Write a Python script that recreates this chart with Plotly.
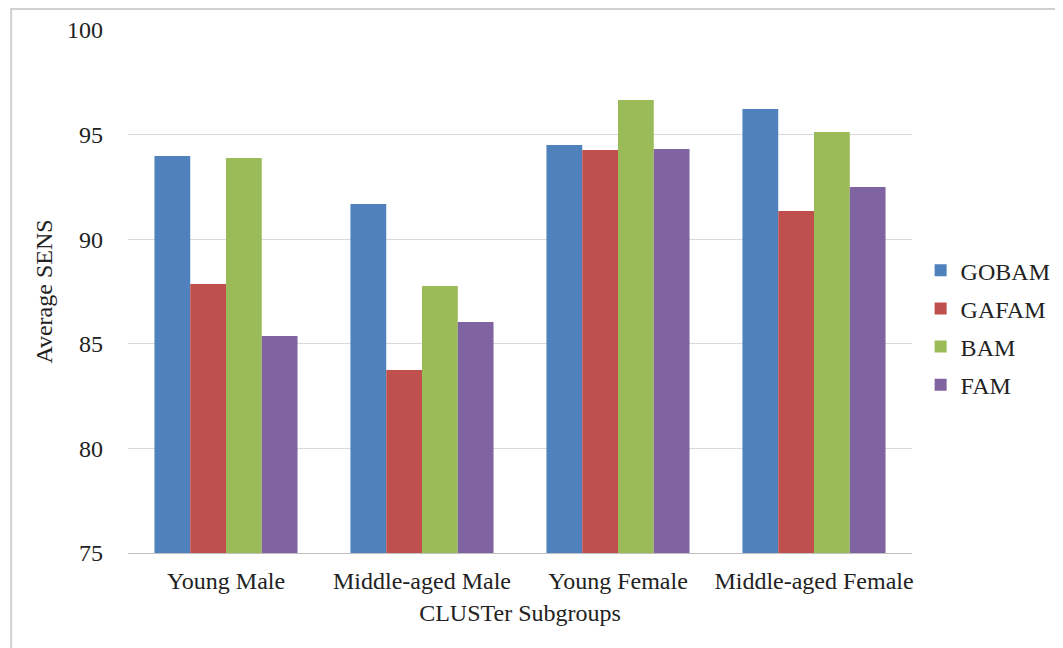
import plotly.graph_objects as go

categories = ["Young Male", "Middle-aged Male", "Young Female", "Middle-aged Female"]
gobam = [93.98, 91.68, 94.50, 96.22]
gafam = [87.86, 83.75, 94.26, 91.35]
bam = [93.88, 87.76, 96.65, 95.12]
fam = [85.37, 86.04, 94.31, 92.50]

series = [("GOBAM", gobam, "#4F81BD"), ("GAFAM", gafam, "#C0504D"),
          ("BAM", bam, "#9BBB59"), ("FAM", fam, "#8064A2")]

font = "Liberation Serif"
fig = go.Figure()
for name, vals, color in series:
    fig.add_trace(go.Bar(x=categories, y=vals, name=name, marker_color=color,
                         marker_line_width=0, legendgroup=name))

fig.update_layout(
    width=1063, height=648,
    margin=dict(l=120, r=159, t=22, b=103, autoexpand=False),
    paper_bgcolor="white", plot_bgcolor="white",
    font=dict(family=font, size=24, color="#222"),
    barmode="group", bargap=0.27, bargroupgap=0,
    legend=dict(x=1.011, y=0.431, yanchor="middle", xanchor="left",
                font=dict(family=font, size=24, color="#222"),
                itemwidth=30, tracegroupgap=4),
    xaxis=dict(title=dict(text="CLUSTer Subgroups", standoff=11,
                          font=dict(family=font, size=24)),
               tickfont=dict(family=font, size=24, color="#222"),
               showline=True, linecolor="#BFBFBF", linewidth=1,
               ticks="", showgrid=False, automargin=False,
               ticklabelstandoff=6),
    yaxis=dict(title=dict(text="Average SENS", standoff=7,
                          font=dict(family=font, size=24)),
               tickfont=dict(family=font, size=24, color="#222"),
               range=[75, 100], dtick=5, showgrid=True,
               gridcolor="#D9D9D9", gridwidth=1, zeroline=False,
               showline=False, ticklabelstandoff=24, automargin=False),
    shapes=[dict(type="rect", xref="paper", yref="paper",
                 x0=-0.149, x1=1.25, y0=-0.25, y1=1.040,
                 line=dict(color="#D0D0D0", width=2), layer="below")],
)

fig.write_html("out.html")
